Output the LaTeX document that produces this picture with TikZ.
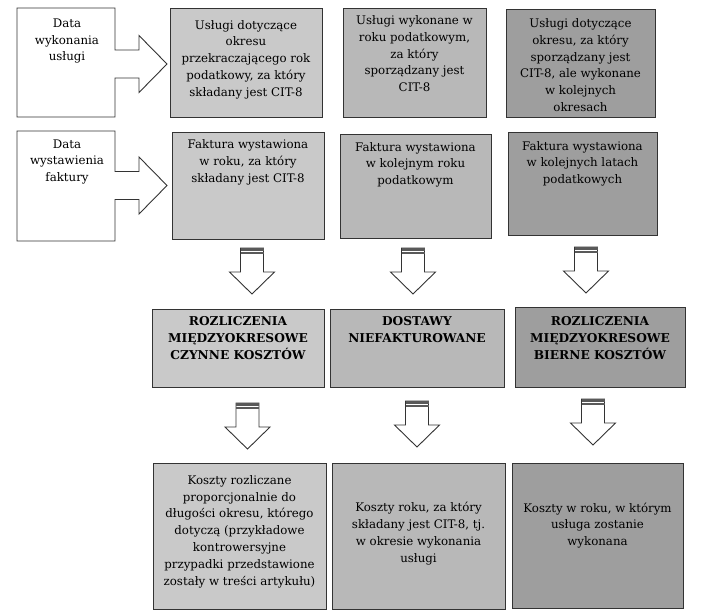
\documentclass[tikz,border=0pt]{standalone}
\usepackage{fontspec}
\setmainfont{DejaVu Serif}
\usetikzlibrary{calc}

\begin{document}
\begin{tikzpicture}[x=1pt,y=-1pt]

  % Parameters
  \def\lskip{16.8}

  % Styles
  \tikzstyle{every node}=[inner sep=0pt,outer sep=0pt]
  \tikzstyle{cell}=[draw=black!80,line width=0.9pt,rectangle]
  \tikzstyle{colA}=[fill=black!21]
  \tikzstyle{colB}=[fill=black!28]
  \tikzstyle{colC}=[fill=black!38]
  \tikzstyle{txt}=[align=center,font=\fontsize{11.8}{\lskip}\selectfont]
  \tikzstyle{heading}=[align=center,font=\fontsize{12.2}{16.7}\selectfont\bfseries]
  \tikzstyle{blk}=[draw=black!80,line width=0.9pt,fill=white,line join=miter]
  \tikzstyle{band}=[fill=black!65]

  % \cellbox[<textstyle>]{<id>}{<fill>}{<x1>}{<y1>}{<x2>}{<y2>}{<baseline>}{<text>}
  \newcommand{\cellbox}[9][txt]{%
    \node[cell,#3,minimum width={#6-#4},minimum height={#7-#5}] (#2) at ({(#4+#6)/2},{(#5+#7)/2}) {};
    \node[#1,anchor=north] (#2-txt) at ({(#4+#6)/2},{#5+#8-0.7*\lskip}) {\strut#9};
  }

  % \callout{<id>}{<top>}{<bottom>}{<mid>}{<baseline>}{<text>}
  \newcommand{\callout}[6]{%
    \draw[blk] (17,#2) -- (115,#2) -- (115,{#4-14}) -- (139,{#4-14}) -- (139,{#4-28.5})
      -- (167,#4) -- (139,{#4+28.5}) -- (139,{#4+14}) -- (115,{#4+14}) -- (115,#3) -- (17,#3) -- cycle;
    \node[txt,anchor=north] (#1) at (67,{#2+#5-0.7*\lskip}) {\strut#6};
  }

  % \darrow{<x>}{<top>}
  \newcommand{\darrow}[2]{%
    \draw[blk] ({#1-11.5},#2) -- ({#1+11.5},#2) -- ({#1+11.5},{#2+24}) -- ({#1+22.5},{#2+24})
      -- (#1,{#2+46}) -- ({#1-22.5},{#2+24}) -- ({#1-11.5},{#2+24}) -- cycle;
    \fill[band] ({#1-11.5},#2) rectangle ({#1+11.5},{#2+2.7});
    \fill[band] ({#1-11.5},{#2+4.3}) rectangle ({#1+11.5},{#2+6.3});
  }

  % ===========================================================================

  \useasboundingbox (0,0) rectangle (720,614);

  % Draw date arrows
  \callout{wykonanie}{8}{117}{64}{19.3}{Data\\wykonania\\usługi}
  \callout{faktura}{131}{241}{185.5}{17}{Data\\wystawienia\\faktury}

  % Draw service rows
  \cellbox{us-1}{colA}{170}{8}{322}{117}{21}{Usługi dotyczące\\okresu\\przekraczającego rok\\podatkowy, za który\\składany jest CIT-8}
  \cellbox{us-2}{colB}{343}{8}{486}{117}{16.5}{Usługi wykonane w\\roku podatkowym,\\za który\\sporządzany jest\\CIT-8}
  \cellbox{us-3}{colC}{506}{9}{655}{117}{18.5}{Usługi dotyczące\\okresu, za który\\sporządzany jest\\CIT-8, ale wykonane\\w kolejnych\\okresach}

  \cellbox{fa-1}{colA}{172}{132}{324}{239}{16.5}{Faktura wystawiona\\w roku, za który\\składany jest CIT-8}
  \cellbox{fa-2}{colB}{340}{134}{491}{238}{17}{Faktura wystawiona\\w kolejnym roku\\podatkowym}
  \cellbox{fa-3}{colC}{508}{132}{657}{235}{18}{Faktura wystawiona\\w kolejnych latach\\podatkowych}

  % Draw arrows
  \darrow{252}{248}
  \darrow{413}{248}
  \darrow{586}{247}

  % Draw categories
  \cellbox[heading]{rm-1}{colA}{152}{309}{324}{387}{17}{ROZLICZENIA\\MIĘDZYOKRESOWE\\CZYNNE KOSZTÓW}
  \cellbox[heading]{rm-2}{colB}{330}{309}{504}{387}{17}{DOSTAWY\\NIEFAKTUROWANE}
  \cellbox[heading]{rm-3}{colC}{515}{307}{685}{387}{19}{ROZLICZENIA\\MIĘDZYOKRESOWE\\BIERNE KOSZTÓW}

  \darrow{247.5}{403}
  \darrow{417}{401}
  \darrow{593}{399}

  % Draw costs
  \cellbox{ko-1}{colA}{153}{463}{326}{609}{21.3}{Koszty rozliczane\\proporcjonalnie do\\długości okresu, którego\\dotyczą (przykładowe\\kontrowersyjne\\przypadki przedstawione\\zostały w treści artykułu)}
  \cellbox{ko-2}{colB}{332}{463}{505}{609}{48.7}{Koszty roku, za który\\składany jest CIT-8, tj.\\w okresie wykonania\\usługi}
  \cellbox{ko-3}{colC}{512}{463}{683}{608}{49}{Koszty w roku, w którym\\usługa zostanie\\wykonana}

\end{tikzpicture}
\end{document}
